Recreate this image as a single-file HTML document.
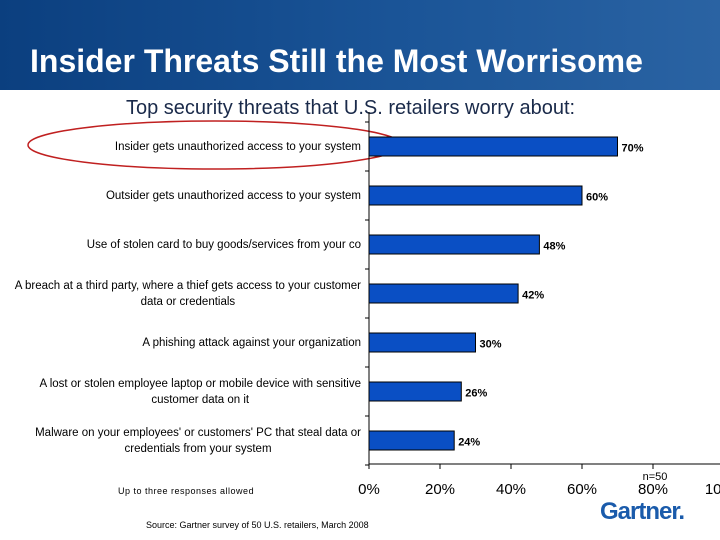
<!DOCTYPE html>
<html><head><meta charset="utf-8">
<style>
body{margin:0;width:720px;height:540px;overflow:hidden;background:#fff;font-family:"Liberation Sans",sans-serif;position:relative}
#hdr{position:absolute;left:0;top:0;width:720px;height:90px;background:linear-gradient(90deg,#0b3f7f,#1a5497 55%,#2a63a3);}
#title{position:absolute;left:30px;top:43px;color:#fff;font-weight:bold;font-size:32px;white-space:nowrap}
#sub{position:absolute;left:126px;top:97px;font-size:20px;color:#1a2a4a;white-space:nowrap}
.lab{position:absolute;right:359px;font-size:11.5px;color:#000;text-align:center;line-height:16px;white-space:nowrap}
#note{position:absolute;left:118px;top:486px;font-size:9px;letter-spacing:0.5px}
#src{position:absolute;left:146px;top:520px;font-size:9px}
#logo{position:absolute;left:600px;top:498px;font-size:24px;font-weight:bold;color:#1a5bab;letter-spacing:-1px}
</style></head><body>
<div id="hdr"></div>
<div id="title">Insider Threats Still the Most Worrisome</div>
<div id="sub">Top security threats that U.S. retailers worry about:</div>
<div id="labels"></div>
<svg id="chart" width="720" height="540" style="position:absolute;left:0;top:0"></svg>
<div id="note">Up to three responses allowed</div>
<div id="src">Source: Gartner survey of 50 U.S. retailers, March 2008</div>
<div id="logo">Gartner.</div>
<script>
const categories=[
"Insider gets unauthorized access to your system",
"Outsider gets unauthorized access to your system",
"Use of stolen card to buy goods/services from your co",
"A breach at a third party, where a thief gets access to your customer<br>data or credentials",
"A phishing attack against your organization",
"A lost or stolen employee laptop or mobile device with sensitive<br>customer data on it",
"Malware on your employees' or customers' PC that steal data or<br>credentials from your system"];
const values=[70,60,48,42,30,26,24];
const ticks=[0,20,40,60,80,100];
const NS="http://www.w3.org/2000/svg";
const svg=document.getElementById('chart');
const x0=369,pxPer=3.55,top0=122,band=49,axisY=464;
const xs=v=>x0+v*pxPer;
const yc=i=>top0+band*i+band/2;
function mk(t,a){const e=document.createElementNS(NS,t);for(const k in a)e.setAttribute(k,a[k]);svg.appendChild(e);return e;}
let el=mk('ellipse',{cx:215,cy:145,rx:187,ry:24,fill:'none',stroke:'#c02020','stroke-width':1.5});


let ya=mk('line',{x1:x0,y1:top0-10,x2:x0,y2:axisY,stroke:'#000'});


let xa=mk('line',{x1:x0,y1:axisY,x2:720,y2:axisY,stroke:'#000'});


for(let i=0;i<=categories.length;i++){mk('line',{x1:x0-4,y1:top0+band*i,x2:x0,y2:top0+band*i,stroke:'#000'});}
ticks.forEach(t=>{
 mk('line',{x1:xs(t),y1:axisY,x2:xs(t),y2:axisY+5,stroke:'#000'});
 const tx=mk('text',{x:xs(t),y:axisY+30,'text-anchor':'middle','font-size':15,'font-family':'Liberation Sans,sans-serif'});
 tx.textContent=t+'%';
 
 
});
const n=mk('text',{x:xs(80)+2,y:axisY+16,'text-anchor':'middle','font-size':11,'font-family':'Liberation Sans,sans-serif'});
n.textContent='n=50';


const labs=document.getElementById('labels');
values.forEach((v,i)=>{
 const r=mk('rect',{x:x0,y:yc(i)-9.5,width:xs(v)-x0,height:19,fill:'#0a4fc4',stroke:'#000','stroke-width':1});
 
 
 const t=mk('text',{x:xs(v)+4,y:yc(i)+5,'font-size':11,'font-weight':'bold','font-family':'Liberation Sans,sans-serif'});
 t.textContent=v+'%';
 
 
 const d=document.createElement('div');
 d.className='lab';
 d.innerHTML=categories[i];
 const lines=categories[i].split('<br>').length;
 d.style.top=(yc(i)-8*lines)+'px';
 
 
 labs.appendChild(d);
});
</script>
</body></html>
